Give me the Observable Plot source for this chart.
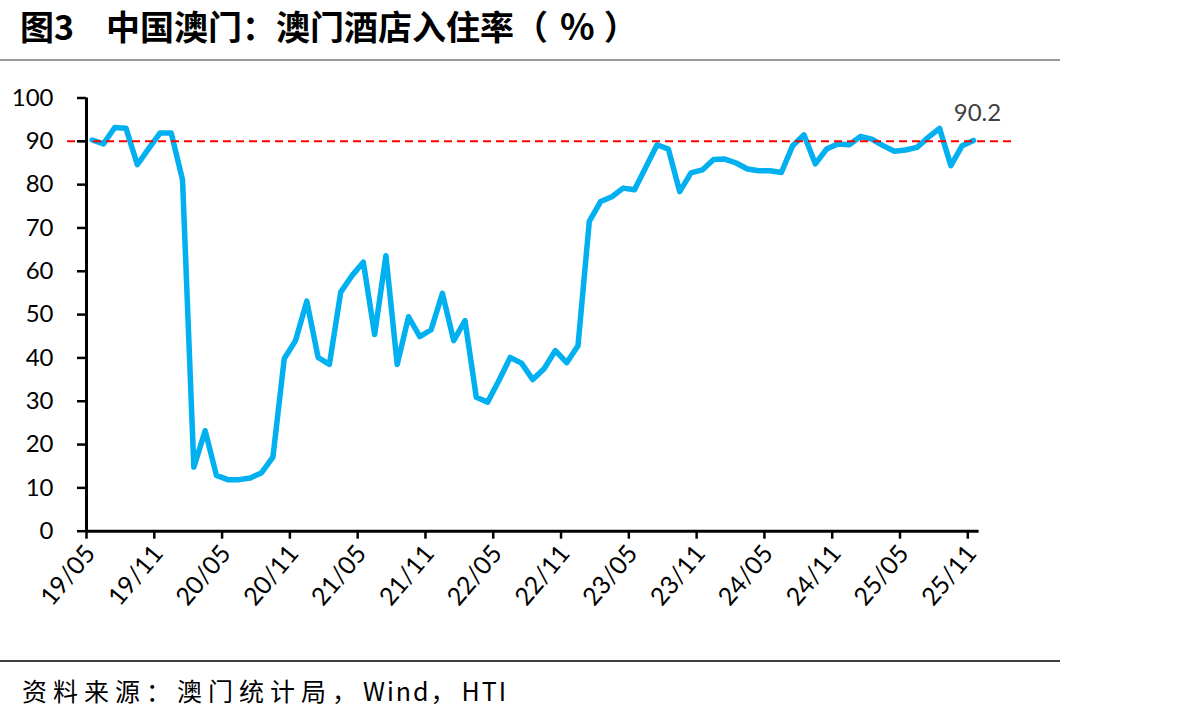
<!DOCTYPE html>
<html>
<head>
<meta charset="utf-8">
<script src="https://cdn.jsdelivr.net/npm/d3@7"></script>
<script src="https://cdn.jsdelivr.net/npm/@observablehq/plot@0.6"></script>
<style>
  html, body { margin: 0; padding: 0; background: #fff; }
  body { position: relative; width: 1201px; height: 723px; overflow: hidden; font-family: Lato, "Noto Sans", sans-serif; }
  #title { position: absolute; left: 20px; top: 3px; font-family: "Noto Sans CJK SC", sans-serif; font-weight: bold; font-size: 34px; line-height: 42px; color: #000; white-space: pre; }
  #title .rest { margin-left: 32px; }
  #title .pct { padding: 0 9px 0 12px; font-size: 36px; }
  #tline { position: absolute; left: 0; top: 59px; width: 1060px; height: 2px; background: #9a9a9a; }
  #chart { position: absolute; left: 0; top: 60px; }
  #bline { position: absolute; left: 0; top: 660px; width: 1060px; height: 2px; background: #404040; }
  #source { position: absolute; left: 22px; top: 672px; font-family: "Noto Sans CJK SC", sans-serif; font-size: 25px; line-height: 36px; color: #000; white-space: pre; }
  #source .cjk { letter-spacing: 6px; }
  #source .lat { letter-spacing: 2px; }
</style>
</head>
<body>
<div id="title"><span>图3</span><span class="rest">中国澳门：澳门酒店入住率（<span class="pct">%</span>）</span></div>
<div id="tline"></div>
<div id="chart"></div>
<div id="bline"></div>
<div id="source"><span class="cjk">资料来源：澳门统计局，</span><span class="lat">Wind</span><span class="cjk">，</span><span class="lat">HTI</span></div>
<script>
// Monthly hotel occupancy rate, 2019/05 .. 2025/11
const startMonth = "2019-05";
const values = [
  90.3, 89.4, 93.2, 93.0, 84.6, 88.3, 91.9, 91.9, 81.1, 14.8,
  23.2, 12.9, 11.9, 11.9, 12.3, 13.5, 17.1, 39.8, 44.0, 53.1,
  40.1, 38.5, 55.2, 59.0, 62.1, 45.4, 63.6, 38.5, 49.5, 44.9,
  46.5, 54.9, 44.0, 48.6, 30.9, 29.8, 34.8, 40.1, 38.8, 35.0,
  37.5, 41.7, 38.9, 42.8, 71.5, 76.1, 77.2, 79.2, 78.8, 84.0,
  89.2, 88.2, 78.4, 82.7, 83.4, 85.8, 85.9, 85.0, 83.6, 83.2,
  83.2, 82.8, 89.0, 91.5, 84.8, 88.2, 89.4, 89.2, 91.1, 90.5,
  89.0, 87.7, 88.0, 88.6, 90.9, 93.0, 84.4, 89.0, 90.2
];
const tickLabels = ["19/05","19/11","20/05","20/11","21/05","21/11","22/05","22/11","23/05","23/11","24/05","24/11","25/05","25/11"];
const yTicks = [0,10,20,30,40,50,60,70,80,90,100];
const refLevel = 90;
const lastLabel = "90.2";

// points sit mid-month; ticks sit at month starts
const data = values.map((v, i) => ({ m: i + 0.5, v }));
const ticks = tickLabels.map((t, k) => ({ m: k * 6, t }));
const last = [data[data.length - 1]];

const plot = Plot.plot({
  width: 1201,
  height: 600,
  marginLeft: 86,
  marginRight: 222.4,
  marginTop: 37.5,
  marginBottom: 129.3,
  x: { domain: [0, values.length], axis: null },
  y: { domain: [0, 100], axis: null },
  style: { background: "transparent", overflow: "visible", fontFamily: "Lato, 'Noto Sans', sans-serif", fontSize: "24px", color: "#000" },
  marks: [
    Plot.line(data, { x: "m", y: "v", stroke: "#00B0F0", strokeWidth: 5.5, strokeLinejoin: "round", strokeLinecap: "round" }),
    Plot.ruleY([refLevel], { stroke: "#FF0000", strokeWidth: 2, strokeDasharray: "8,5", insetLeft: -19, insetRight: -33 }),
    Plot.ruleX([0], { stroke: "#000", strokeWidth: 3 }),
    Plot.ruleY([0], { stroke: "#000", strokeWidth: 3 }),
    Plot.axisY(yTicks, { tickSize: 9, tickPadding: 24, strokeWidth: 2.5, fontSize: 24, fill: "#000", label: null }),
    Plot.axisX(ticks.map(d => d.m), { tickSize: 8, strokeWidth: 2.5, tickFormat: () => "", label: null }),
    Plot.text(ticks, { x: "m", text: "t", frameAnchor: "bottom", rotate: -50, textAnchor: "end", dx: 10, dy: 23, fontSize: 25, fill: "#000" }),
    Plot.text(last, { x: "m", y: "v", text: () => lastLabel, dx: 4, dy: -27, fontSize: 24, fill: "#404040" })
  ]
});
document.getElementById("chart").appendChild(plot);
</script>
</body>
</html>
